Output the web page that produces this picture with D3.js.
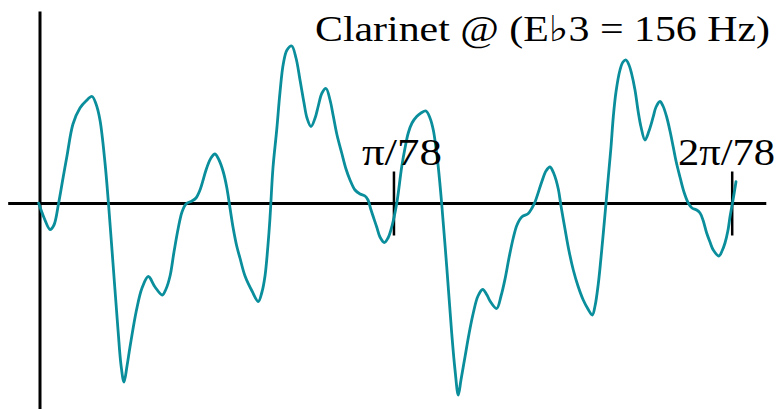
<!DOCTYPE html>
<html>
<head>
<meta charset="utf-8">
<script src="https://cdn.jsdelivr.net/npm/d3@7"></script>
<style>
  html, body { margin: 0; padding: 0; background: #fff; }
  svg { display: block; }
  text { font-family: "Liberation Serif", "DejaVu Serif", serif; fill: #000; }
</style>
</head>
<body>
<svg id="chart" width="778" height="409"></svg>
<script>
// ---- data (phase in thousandths of 2π/78, amplitude in % of full scale) ----
const phase = [
  -2, 6, 14.5, 20.2, 26.7, 33.3, 39.0, 47.7, 57.8, 66.5, 75.2, 81.0, 86.7, 94.0, 99.0,
  105.5, 112.8, 117.1, 121.4, 125.8, 130.1, 139.5, 147.5, 156.6, 166.3, 176.8, 182.2, 188.0,
  193.7, 199.9, 205.3, 211.1, 219.7, 225.5, 231.3, 241.0, 247.2, 253.0, 258.8, 265.0, 269.9,
  274.7, 279.0, 284.4, 289.1, 296.4, 306.5, 315.6, 320.9, 325.3, 329.6, 332.5, 336.8, 342.2,
  347.0, 351.7, 357.1, 363.9, 370.1, 375.9, 381.7, 386.0, 391.8, 397.7, 402.3, 407.7, 413.5,
  419.3, 424.0, 429.4, 436.2, 442.4, 448.2, 455.4, 462.7, 469.9, 474.2, 478.6, 486.8, 491.5,
  497.8, 503.1, 508.5, 515.7, 522.9, 527.7, 532.4, 537.8, 544.6, 550.8, 558.0, 563.8, 568.6,
  572.5, 575.8, 580.7, 588.0, 595.2, 600.0, 604.7, 608.6, 614.4, 620.2, 626.4, 633.2, 640.0,
  646.2, 650.6, 660.2, 666.5, 672.3, 678.0, 684.2, 689.6, 696.4, 705.9, 711.3, 715.6, 725.3,
  731.5, 737.3, 743.1, 749.3, 753.2, 759.0, 764.8, 771.0, 777.8, 785.4, 792.2, 798.5, 802.4,
  807.1, 811.0, 814.4, 818.3, 821.6, 825.5, 828.8, 832.7, 838.5, 842.8, 847.2, 851.5, 855.4,
  860.2, 864.9, 868.9, 874.6, 880.4, 886.6, 890.6, 896.3, 900.7, 906.0, 910.8, 915.5, 919.5,
  925.2, 931.0, 937.2, 942.6, 949.4, 954.2, 958.5, 963.8, 968.6, 973.4, 981.6, 986.0, 990.3,
  994.7, 997.5, 1001.9, 1006.2
];
const amplitude = [
  0.25, -7.25, -13, -10.75, -0.25, 12.75, 23.75, 39.75, 47.75, 51.25, 53.5, 49.75, 41.75, 20.25, 0,
  -29.75, -63.25, -80.75, -89.25, -81.25, -71.75, -53.25, -42.25, -36.5, -41.75, -45.75, -42.75, -36.25,
  -24.25, -12.25, -4.25, -0.25, 1.25, 2.75, 6.75, 17.75, 22.75, 24.75, 21.75, 15.75, 8.25,
  -2.25, -11.75, -21.25, -27.25, -36.25, -43.75, -49, -44.25, -36.25, -20.75, -7.25, 17.75, 36.75,
  55.75, 69.75, 76.75, 78.75, 72.75, 61.75, 50.25, 42.75, 38.5, 42.75, 48.75, 55.25, 57.5,
  51.75, 43.75, 34.25, 25.25, 17.25, 11.75, 6.75, 4.75, 3.75, 1.75, -3.25, -11.75, -16.75,
  -19.5, -17.25, -11.75, 0, 18.25, 27.75, 35.25, 40.25, 43.5, 45.25, 46.25, 42.75, 36.75,
  27.75, 18.25, 0, -31.6, -64.75, -83.25, -95.75, -88.25, -76.75, -65.25, -54.75, -46.25, -43,
  -45.75, -48.75, -52.5, -46.25, -37.75, -27.25, -17.25, -10.75, -6.75, -5, -2.25, 0.75, 10.75,
  16.25, 18.25, 14.75, 7.25, -1.25, -12.75, -23.75, -33.25, -41.25, -48.25, -52.75, -55.75, -51.25,
  -40.25, -27.25, -14.75, 0.25, 13.25, 28.25, 43.25, 55.75, 66.75, 70.75, 71.75, 69.25, 64.75,
  56.75, 45.75, 38.25, 31.75, 36.25, 43.4, 48.25, 51, 48.75, 43.25, 36.25, 28.25, 21.25,
  13.25, 5.75, 0.25, -2.25, -3.25, -4.75, -8.25, -14.75, -19.25, -23.25, -26.25, -23.75, -19.75,
  -13.25, -6.75, 1.75, 10.9
];
const tickValues = [511, 1000];
const tickLabels = ["π/78", "2π/78"];
const titleText = "Clarinet @ (E\u266D3 = 156 Hz)";

// ---- layout / style ----
const svg = d3.select("#chart");
const x = d3.scaleLinear().domain([0, 1000]).range([40, 731.7]);
const y = d3.scaleLinear().domain([-100, 100]).range([403.5, 3.5]);
const axisXExtent = [-46, 1050];
const axisYExtent = [-103, 96];
const tickHalf = 16;
const labelDx = [-31.5, -53.7];
const labelWidths = [80, 97];
const labelBaseline = 165;
const lineColor = "#0a8e9c";

const data = phase.map((p, i) => ({ p, a: amplitude[i] }));

// axes lines
svg.append("line")
  .attr("x1", x(axisXExtent[0])).attr("x2", x(axisXExtent[1]))
  .attr("y1", y(0)).attr("y2", y(0))
  .attr("stroke", "#000").attr("stroke-width", 3);
svg.append("line")
  .attr("x1", x(0)).attr("x2", x(0))
  .attr("y1", y(axisYExtent[1])).attr("y2", y(axisYExtent[0]))
  .attr("stroke", "#000").attr("stroke-width", 3);

// ticks via d3 axis (straddling the horizontal axis)
const tickAxis = d3.axisBottom(x)
  .tickValues(tickValues)
  .tickSize(y(-tickHalf) - y(tickHalf))
  .tickFormat("");
const gt = svg.append("g")
  .attr("transform", `translate(0,${y(tickHalf)})`)
  .call(tickAxis);
gt.select(".domain").remove();
gt.selectAll(".tick line").attr("stroke", "#000").attr("stroke-width", 2.5);

// waveform
const line = d3.line()
  .x(d => x(d.p))
  .y(d => y(d.a))
  .curve(d3.curveCatmullRom.alpha(0.5));
svg.append("path")
  .datum(data)
  .attr("d", line)
  .attr("fill", "none")
  .attr("stroke", lineColor)
  .attr("stroke-width", 2.8)
  .attr("stroke-linejoin", "round")
  .attr("stroke-linecap", "round");

// tick labels
svg.selectAll("text.tlabel")
  .data(tickValues)
  .enter().append("text")
  .attr("class", "tlabel")
  .attr("x", (d, i) => x(d) + labelDx[i])
  .attr("y", labelBaseline)
  .attr("font-size", 37)
  .attr("textLength", (d, i) => labelWidths[i])
  .attr("lengthAdjust", "spacingAndGlyphs")
  .text((d, i) => tickLabels[i]);

// title
svg.append("text")
  .attr("x", 315)
  .attr("y", 41)
  .attr("font-size", 36)
  .attr("textLength", 455)
  .attr("lengthAdjust", "spacingAndGlyphs")
  .text(titleText);
</script>
</body>
</html>
